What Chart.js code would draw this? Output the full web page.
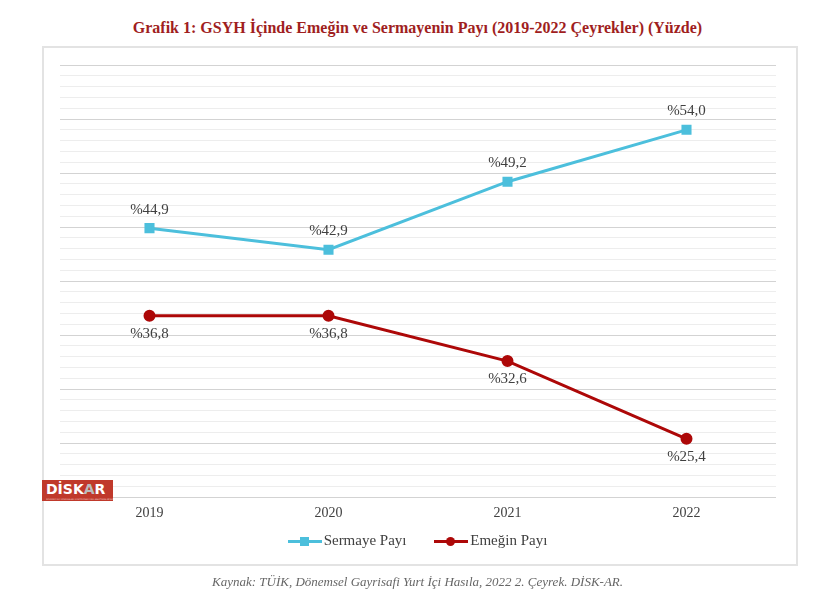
<!DOCTYPE html>
<html lang="tr">
<head>
    <meta charset="UTF-8">
    <title>Grafik 1</title>
    <script src="https://cdn.jsdelivr.net/npm/chart.js"></script>
    <style>
        body {
            margin: 0;
            background: #fff;
            width: 835px;
            height: 610px;
            position: relative;
            overflow: hidden;
        }
        #title {
            position: absolute;
            top: 19px;
            left: 0;
            width: 835px;
            text-align: center;
            font-family: 'Liberation Serif', serif;
            font-weight: bold;
            font-size: 16px;
            color: #a01e1e;
        }
        #frame {
            position: absolute;
            left: 42px;
            top: 46px;
            width: 752px;
            height: 516px;
            border: 2px solid #e3e3e3;
        }
        #chart {
            position: absolute;
            left: 0;
            top: 0;
        }
        #logo {
            position: absolute;
            left: 42px;
            top: 480px;
            width: 71px;
            height: 21px;
            background: #c0392b;
            font-family: 'DejaVu Sans', sans-serif;
            font-weight: bold;
            font-size: 14px;
            color: #fff;
            line-height: 17px;
            padding: 1px 0 0 4px;
            box-sizing: border-box;
        }
        #logo span { color: #bbb; }
        #logo small {
            display: block;
            font-size: 2px;
            line-height: 2px;
            color: #f3d0cc;
            font-weight: normal;
            white-space: nowrap;
            overflow: hidden;
        }
        #legend {
            position: absolute;
            top: 532px;
            left: 0;
            width: 835px;
            text-align: center;
            font-family: 'Liberation Serif', serif;
            font-size: 15px;
            color: #404040;
        }
        .item { display: inline-block; margin: 0 12px; }
        .key {
            display: inline-block;
            position: relative;
            width: 34px;
            height: 3px;
            vertical-align: middle;
            margin-right: 2px;
        }
        .key i {
            position: absolute;
            left: 12px;
            top: -3px;
            width: 9px;
            height: 9px;
        }
        #source {
            position: absolute;
            top: 574px;
            left: 0;
            width: 835px;
            text-align: center;
            font-family: 'Liberation Serif', serif;
            font-style: italic;
            font-size: 13px;
            color: #666;
        }
    </style>
</head>
<body>
<div id="title">Grafik 1: GSYH İçinde Emeğin ve Sermayenin Payı (2019-2022 Çeyrekler) (Yüzde)</div>
<div id="frame"></div>
<canvas id="chart" width="835" height="610"></canvas>
<div id="logo">DİSK<span>A</span>R<small>DEVRİMCİ İŞÇİ SENDİKALARI KONFEDERASYONU ARAŞTIRMA MERKEZİ</small></div>
<div id="legend">
    <span class="item"><span class="key" style="background:#4cbfdc"><i style="background:#4cbfdc"></i></span>Sermaye Payı</span>
    <span class="item"><span class="key" style="background:#ad0808"><i style="background:#ad0808;border-radius:50%"></i></span>Emeğin Payı</span>
</div>
<div id="source">Kaynak: TÜİK, Dönemsel Gayrisafi Yurt İçi Hasıla, 2022 2. Çeyrek. DİSK-AR.</div>

<script>
    // veriler
    var years = ["2019", "2020", "2021", "2022"];
    var sermaye = [44.9, 42.9, 49.2, 54.0];
    var emek = [36.8, 36.8, 32.6, 25.4];

    // yüzde etiketleri: sermaye üstte, emek altta
    var labelPlugin = {
        id: "pctLabels",
        afterDatasetsDraw: function (chart) {
            var ctx = chart.ctx;
            ctx.save();
            ctx.font = "15px 'Liberation Serif', serif";
            ctx.fillStyle = "#404040";
            ctx.textAlign = "center";
            chart.data.datasets.forEach(function (ds, i) {
                var meta = chart.getDatasetMeta(i);
                meta.data.forEach(function (pt, j) {
                    var txt = "%" + ds.data[j].toFixed(1).replace(".", ",");
                    if (i === 0) {
                        ctx.textBaseline = "bottom";
                        ctx.fillText(txt, pt.x, pt.y - 11);
                    } else {
                        ctx.textBaseline = "top";
                        ctx.fillText(txt, pt.x, pt.y + 11);
                    }
                });
            });
            ctx.restore();
        }
    };

    var ctx = document.getElementById("chart").getContext("2d");
    var chart = new Chart(ctx, {
        type: "line",
        data: {
            labels: years,
            datasets: [
                {
                    label: "Sermaye Payı",
                    data: sermaye,
                    borderColor: "#4cbfdc",
                    backgroundColor: "#4cbfdc",
                    borderWidth: 3,
                    pointStyle: "rect",
                    pointRadius: 5,
                    tension: 0
                },
                {
                    label: "Emeğin Payı",
                    data: emek,
                    borderColor: "#ad0808",
                    backgroundColor: "#ad0808",
                    borderWidth: 3,
                    pointStyle: "circle",
                    pointRadius: 4.5,
                    tension: 0
                }
            ]
        },
        options: {
            responsive: false,
            animation: false,
            layout: {
                padding: { left: 60, right: 59, top: 65, bottom: 80 }
            },
            plugins: {
                legend: { display: false },
                tooltip: { enabled: false }
            },
            scales: {
                x: {
                    offset: true,
                    grid: { display: false, drawTicks: false },
                    border: { display: false },
                    ticks: {
                        padding: 8,
                        color: "#404040",
                        font: { family: "'Liberation Serif', serif", size: 14 }
                    }
                },
                y: {
                    min: 20,
                    max: 60,
                    grid: {
                        drawTicks: false,
                        tickLength: 0,
                        lineWidth: 1,
                        color: function (c) {
                            return c.tick && c.tick.value % 5 === 0 ? "#d3d3d3" : "#ededed";
                        }
                    },
                    border: { display: false },
                    ticks: { display: false, stepSize: 1 }
                }
            }
        },
        plugins: [labelPlugin]
    });
</script>
</body>
</html>
